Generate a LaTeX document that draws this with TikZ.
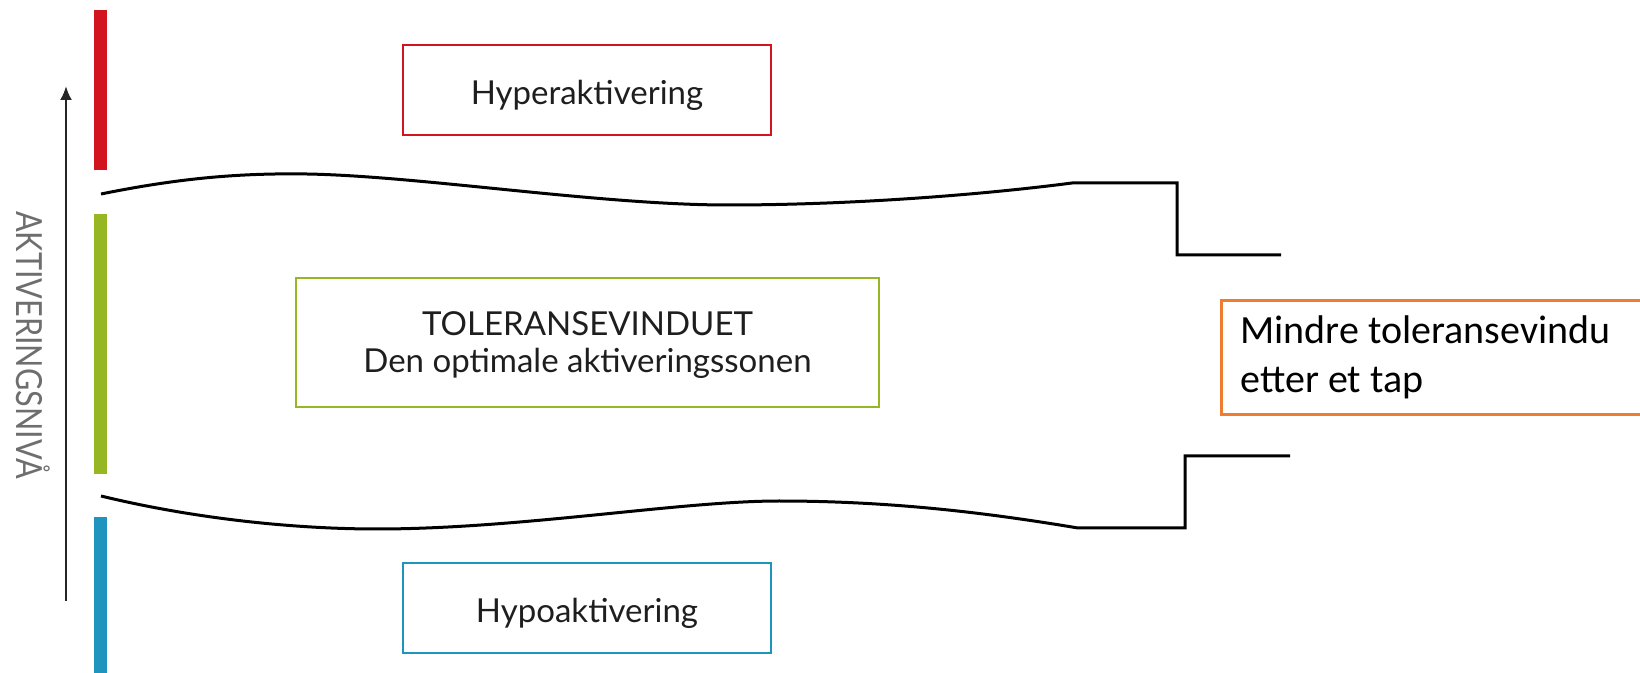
\documentclass[tikz,border=0pt]{standalone}
\usepackage{fontspec}
\newfontfamily\labfont{Lato}
\newfontfamily\calfont{Carlito}
\usetikzlibrary{arrows.meta}
\definecolor{hyred}{RGB}{210,20,30}
\definecolor{tolgreen}{RGB}{150,182,35}
\definecolor{hypblue}{RGB}{30,148,190}
\definecolor{orng}{RGB}{237,125,49}
\definecolor{txtgray}{RGB}{30,30,30}
\definecolor{axgray}{RGB}{110,110,110}
\begin{document}
\begin{tikzpicture}[x=0.5pt,y=-0.5pt,
  bar/.style={minimum width=6.5pt, inner sep=0pt, outer sep=0pt},
  zone/.style={draw, line width=1.4pt, inner sep=0pt, font=\labfont\fontsize{16.5}{18.5}\selectfont, text=txtgray, align=center},
  zonetext/.style={inner sep=0pt, font=\labfont\fontsize{16.5}{18.5}\selectfont, text=txtgray, align=center},
  wall/.style={line width=1.5pt, black},
]
\useasboundingbox (0,0) rectangle (1640,673);
\begin{scope}
\clip (0,0) rectangle (1640,673);
% colour bars
\node[bar, fill=hyred, minimum height=80pt] (redbar) at (100.5,90) {};
\node[bar, fill=tolgreen, minimum height=130pt] (greenbar) at (100.5,344) {};
\node[bar, fill=hypblue, minimum height=78pt] (bluebar) at (100.5,595) {};
% axis arrow
\coordinate (abot) at (66,601);
\coordinate (atop) at (66,86);
\draw[-{Latex[length=7pt,width=6pt]}, line width=1.2pt, black!85] (abot) -- (atop);
\node[rotate=-90, text=axgray, font=\labfont\fontsize{18}{20}\selectfont, inner sep=0pt] (axis) at (33,345) {\scalebox{0.85}[1]{AKTIVERINGSNIVÅ}};
% boxes
\node[zone, draw=hyred, minimum width=184pt, minimum height=45pt, text height=14.5pt, text depth=0pt] (hyper) at (587,90) {Hyperaktivering};
\node[zone, draw=tolgreen, minimum width=291.5pt, minimum height=64.5pt] (tol) at (587.5,342.5) {};
\node[zonetext] (toltext) at ([yshift=-1.3pt]tol.center) {TOLERANSEVINDUET\\Den optimale aktiveringssonen};
\node[zone, draw=hypblue, minimum width=184pt, minimum height=45pt, text height=14.5pt, text depth=0pt] (hypo) at (587,608) {Hypoaktivering};
\node[draw=orng, line width=1.6pt, anchor=north west, minimum width=220pt, minimum height=57pt, text width=201pt, inner xsep=9.5pt, inner ysep=0pt, align=flush left, font=\calfont\fontsize{20}{24.5}\selectfont, text=black] (small) at (1220,299) {Mindre toleransevindu\\etter et tap};
% window walls
\draw[wall] (101,194) .. controls (180,178) and (240,173) .. (307,174)
  .. controls (420,176) and (600,205) .. (728,205)
  .. controls (850,205) and (980,195) .. (1072,183)
  -- (1177,183) -- (1177,255) -- (1281,255);
\draw[wall] (101,496) .. controls (200,520) and (300,529) .. (377,529)
  .. controls (520,529) and (680,501) .. (779,501)
  .. controls (900,501) and (1000,515) .. (1078,528)
  -- (1185,528) -- (1185,456) -- (1290,456);
\end{scope}
\end{tikzpicture}
\end{document}
